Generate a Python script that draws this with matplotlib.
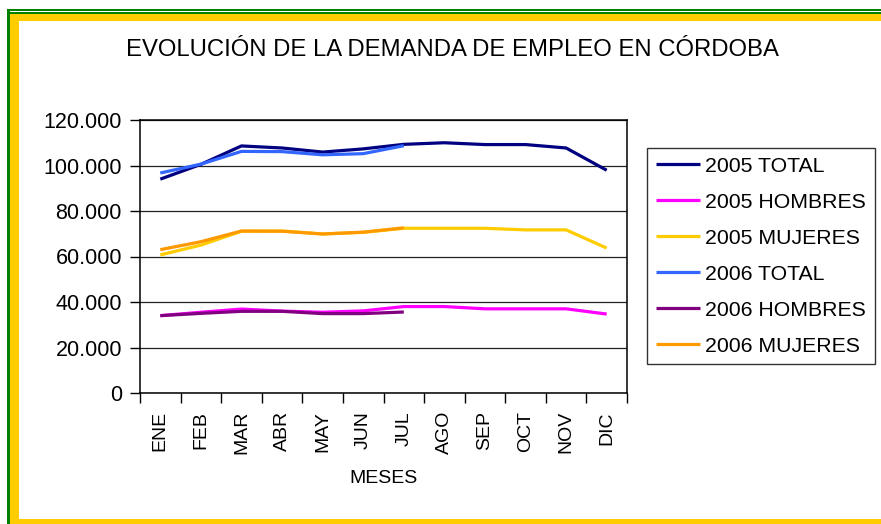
import numpy as np
import matplotlib.pyplot as plt
from matplotlib.patches import Rectangle
from matplotlib.ticker import FuncFormatter

#%% Datos
meses = ['ENE', 'FEB', 'MAR', 'ABR', 'MAY', 'JUN', 'JUL', 'AGO', 'SEP', 'OCT', 'NOV', 'DIC']

total_2005 = [94000, 100500, 108600, 107700, 105900, 107300, 109300, 110000, 109200, 109200, 107700, 97900]
hombres_2005 = [34000, 35500, 36900, 36000, 35500, 36100, 38000, 38000, 37000, 37000, 37000, 34700]
mujeres_2005 = [60700, 65000, 71100, 71200, 69900, 70600, 72400, 72400, 72400, 71700, 71700, 63700]
total_2006 = [96700, 100600, 106200, 106100, 104700, 105200, 108700]
hombres_2006 = [34000, 35000, 35900, 35900, 34900, 34900, 35600]
mujeres_2006 = [63000, 66500, 71200, 71100, 69900, 70700, 72600]

series = [
    ('2005 TOTAL', total_2005, '#000080'),
    ('2005 HOMBRES', hombres_2005, '#FF00FF'),
    ('2005 MUJERES', mujeres_2005, '#FFCC00'),
    ('2006 TOTAL', total_2006, '#3366FF'),
    ('2006 HOMBRES', hombres_2006, '#800080'),
    ('2006 MUJERES', mujeres_2006, '#FF9900'),
]

#%% Figura
plt.rcParams['font.family'] = ['Liberation Sans', 'DejaVu Sans']
W, H = 881, 524
fig = plt.figure(figsize=(W / 100, H / 100), dpi=100)

def px_rect(x0, y0, x1, y1, color):
    # rectangulo en pixeles (origen arriba a la izquierda)
    fig.patches.append(Rectangle((x0 / W, 1 - y1 / H), (x1 - x0) / W, (y1 - y0) / H,
                                 transform=fig.transFigure, color=color, lw=0, zorder=0))

# marco verde / amarillo
px_rect(7, 9, 881, 11, '#008000')
px_rect(7, 12, 881, 14, '#008000')
px_rect(7, 9, 10, 524, '#008000')
px_rect(10, 14, 881, 21, '#FFCC00')
px_rect(10, 14, 19, 524, '#FFCC00')
px_rect(10, 519, 881, 524, '#FFCC00')

ax = fig.add_axes([140 / W, 1 - 393 / H, 487 / W, 273 / H])
xx = np.arange(len(meses))
for nombre, vals, col in series:
    ax.plot(xx[:len(vals)], vals, color=col, lw=2.3, label=nombre, solid_capstyle='butt')

ax.set_xlim(-0.5, 11.5)
ax.set_ylim(0, 120000)
ax.set_yticks(np.arange(0, 120001, 20000))
ax.yaxis.set_major_formatter(FuncFormatter(lambda v, p: f'{int(v):,}'.replace(',', '.')))
ax.grid(axis='y', color='#222222', lw=0.9)
ax.set_axisbelow(True)
ax.tick_params(axis='y', length=7, width=1, pad=6, labelsize=15.5)

ax.set_xticks(xx)
ax.set_xticklabels(meses, rotation=90, fontsize=14)
ax.set_xticks(np.arange(-0.5, 12, 1), minor=True)
ax.tick_params(axis='x', which='major', length=0, pad=13)
ax.tick_params(axis='x', which='minor', length=7, width=1)
for s in ax.spines.values():
    s.set_linewidth(1.1)
    s.set_color('black')
ax.set_xlabel('MESES', fontsize=14, labelpad=11)

fig.text(452 / W, 1 - 50 / H, 'EVOLUCIÓN DE LA DEMANDA DE EMPLEO EN CÓRDOBA',
         ha='center', va='center', fontsize=17.2)

leg = ax.legend(loc='upper left', bbox_to_anchor=(647 / W, 1 - 148 / H),
                bbox_transform=fig.transFigure, fontsize=15.3, frameon=True, fancybox=False,
                edgecolor='black', handlelength=2.1, handletextpad=0.25,
                labelspacing=0.8, borderpad=0.4, borderaxespad=0)
leg.get_frame().set_linewidth(1)

fig.savefig('out.png', dpi=100, facecolor='white')
